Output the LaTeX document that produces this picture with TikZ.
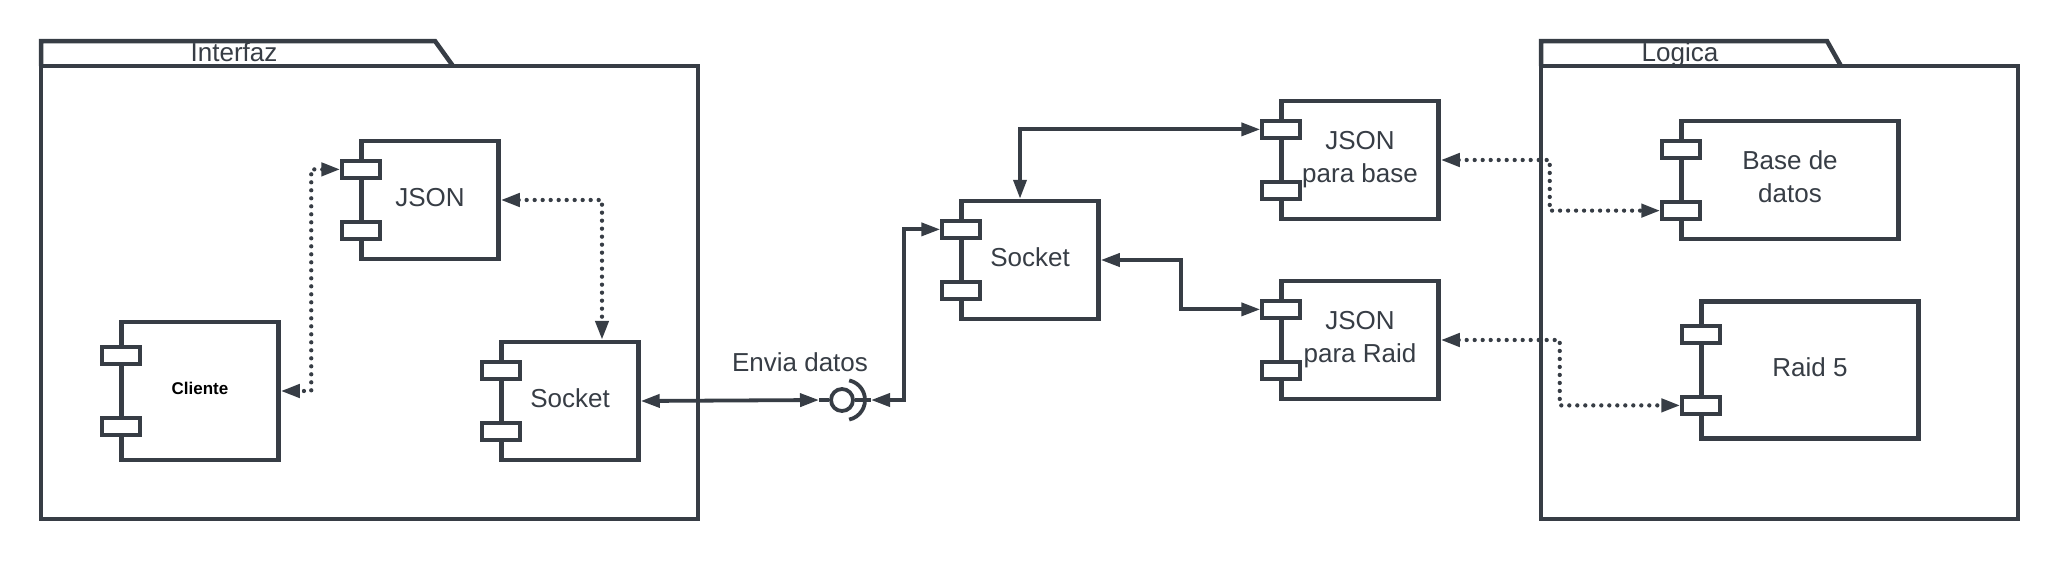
\documentclass[tikz,border=0pt]{standalone}
\usepackage{fontspec}
\setmainfont{Liberation Sans}
\usepackage{tikz}
\usetikzlibrary{arrows.meta,positioning,calc}
\definecolor{slate}{RGB}{55,61,69}

\begin{document}
\begin{tikzpicture}[x=1pt,y=-1pt,
  comp/.style={draw=slate,line width=4.5pt,fill=white,minimum width=137pt,minimum height=118pt,inner sep=0pt,text=slate,font=\fontsize{26}{33}\selectfont,align=center,text depth=6pt},
  port/.style={draw=slate,line width=4pt,fill=white,minimum width=38pt,minimum height=17.5pt,inner sep=0pt},
  conn/.style={slate,line width=3.8pt,{Triangle[length=19pt,width=13pt]}-{Triangle[length=19pt,width=13pt]}},
  dotconn/.style={conn,line width=4.3pt,line cap=round,dash pattern=on 0pt off 8pt},
  pkg/.style={draw=slate,line width=4.5pt},
  lbl/.style={text=slate,font=\fontsize{26}{33}\selectfont,anchor=base}]
\useasboundingbox (0,0) rectangle (2060,560);

% Packages
\draw[pkg] (41,66) -- (41,41) -- (435,41) -- (453,66);
\draw[pkg] (41,66) rectangle (698,519);
\node[lbl] (interfaz) at (234,61.5) {Interfaz};
\draw[pkg] (1541,66) -- (1541,41) -- (1827,41) -- (1841,66);
\draw[pkg] (1541,66) rectangle (2018,519);
\node[lbl] (logica) at (1680,61.5) {Logica};

% Components
\node[comp] (json) at (430,200) {JSON};
\node[comp,minimum width=157pt,minimum height=138pt,text=black,text depth=5pt,font=\bfseries\fontsize{17}{20}\selectfont] (cliente) at (200,391) {Cliente};
\node[comp] (sockA) at (570,401) {Socket};
\node[comp] (sockB) at (1030,260) {Socket};
\node[comp,minimum width=157pt] (jbase) at (1360,160) {JSON\\para base};
\node[comp,minimum width=157pt] (jraid) at (1360,340) {JSON\\para Raid};
\node[comp,minimum width=217pt] (bd) at (1790,180) {Base de\\datos};
\node[comp,minimum width=217pt,minimum height=137pt] (raid) at (1810,370) {Raid 5};

% Ports
\foreach \c in {json,cliente,sockA,sockB,jbase,jraid,bd,raid}{
  \node[port] (\c-p1) at ($(\c.north west)!0.25!(\c.south west)+(2,0)$) {};
  \node[port] (\c-p2) at ($(\c.north west)!0.75!(\c.south west)+(2,0)$) {};
}

% Interface
\node[circle,draw=slate,line width=3.8pt,fill=white,minimum size=22pt,inner sep=0pt] (ball) at (842,400) {};
\coordinate (ifL) at ($(ball.center)+(-23,0)$);
\coordinate (ifR) at ($(ball.center)+(29,0)$);
\draw[slate,line width=3.8pt] (ifL) -- (ball.west) (ball.east) -- (ifR);
\draw[slate,line width=3.8pt] ([xshift=3pt]ball.center) ++(78:20) arc[start angle=78,end angle=-78,radius=20];
\node[lbl] (envia) at (800,371) {Envia datos};

% Connectors
\draw[dotconn] (json-p1.west) -- ++(-29,0) |- (cliente.east);
\draw[dotconn] (json.east) -| ([xshift=32pt]sockA.north);
\draw[conn] (sockA.east) -- (ifL);
\draw[conn] (ifR) -- ++(33,0) |- (sockB-p1.west);
\draw[conn] ([xshift=-10pt]sockB.north) |- (jbase-p1.west);
\draw[conn] (sockB.east) -- ++(80,0) |- (jraid-p1.west);
\draw[dotconn] (jbase.east) -- ++(109,0) |- (bd-p2.west);
\draw[dotconn] (jraid.east) -- ++(119,0) |- (raid-p2.west);
\end{tikzpicture}
\end{document}
